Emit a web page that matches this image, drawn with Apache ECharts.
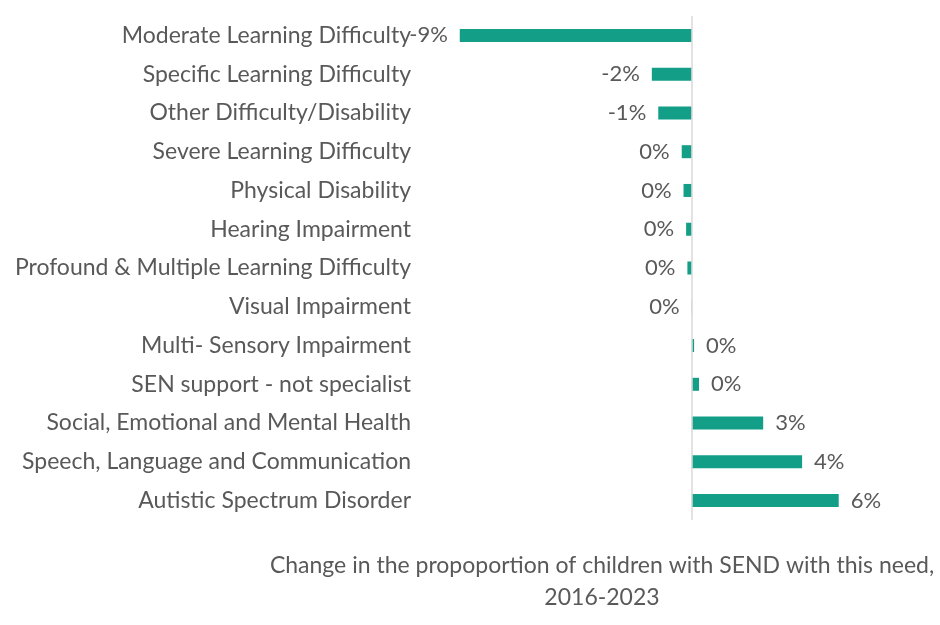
<!DOCTYPE html>
<html>
<head>
<meta charset="utf-8">
<script src="https://cdn.jsdelivr.net/npm/echarts@6/dist/echarts.min.js"></script>
<style>
  html, body { margin: 0; padding: 0; background: #fff; }
  #chart { width: 940px; height: 625px; }
</style>
</head>
<body>
<div id="chart"></div>
<script>
// Categories, top to bottom
const needs = [
  'Moderate Learning Difficulty',
  'Specific Learning Difficulty',
  'Other Difficulty/Disability',
  'Severe Learning Difficulty',
  'Physical Disability',
  'Hearing Impairment',
  'Profound & Multiple Learning Difficulty',
  'Visual Impairment',
  'Multi- Sensory Impairment',
  'SEN support - not specialist',
  'Social, Emotional and Mental Health',
  'Speech, Language and Communication',
  'Autistic Spectrum Disorder'
];

// Change in proportion, percentage points
const change = [-9.0, -1.55, -1.3, -0.39, -0.32, -0.22, -0.17, -0.01, 0.09, 0.28, 2.77, 4.28, 5.7];

const chart = echarts.init(document.getElementById('chart'));
const textColor = '#595959';
const font = 'Lato';

chart.setOption({
  animation: false,
  textStyle: { fontFamily: font },
  title: {
    text: 'Change in the propoportion of children with SEND with this need,\n2016-2023',
    left: 597,
    top: 545,
    textAlign: 'center',
    textStyle: {
      color: textColor,
      fontSize: 23,
      fontWeight: 'normal',
      fontFamily: font,
      lineHeight: 32
    }
  },
  grid: { left: 434, right: 42, top: 16, bottom: 105, containLabel: false },
  xAxis: {
    type: 'value',
    min: -10,
    max: 8,
    show: false
  },
  yAxis: {
    type: 'category',
    data: needs,
    inverse: true,
    axisLine: { show: false },
    axisTick: { show: false },
    axisLabel: {
      color: textColor,
      fontSize: 23,
      fontFamily: font,
      margin: 23
    }
  },
  series: [{
    type: 'bar',
    // negative bars get their label on the left
    data: change.map(v => ({
      value: v,
      label: { position: v < 0 ? 'left' : 'right' }
    })),
    barWidth: 13,
    itemStyle: { color: '#139E88' },
    label: {
      show: true,
      color: textColor,
      fontSize: 22,
      fontFamily: font,
      distance: 12,
      formatter: p => Math.round(p.value) === 0 ? '0%' : Math.round(p.value) + '%'
    },
    markLine: {
      silent: true,
      symbol: 'none',
      label: { show: false },
      lineStyle: { color: '#d9d9d9', type: 'solid', width: 1.5 },
      data: [{ xAxis: 0 }]
    }
  }]
});
</script>
</body>
</html>
